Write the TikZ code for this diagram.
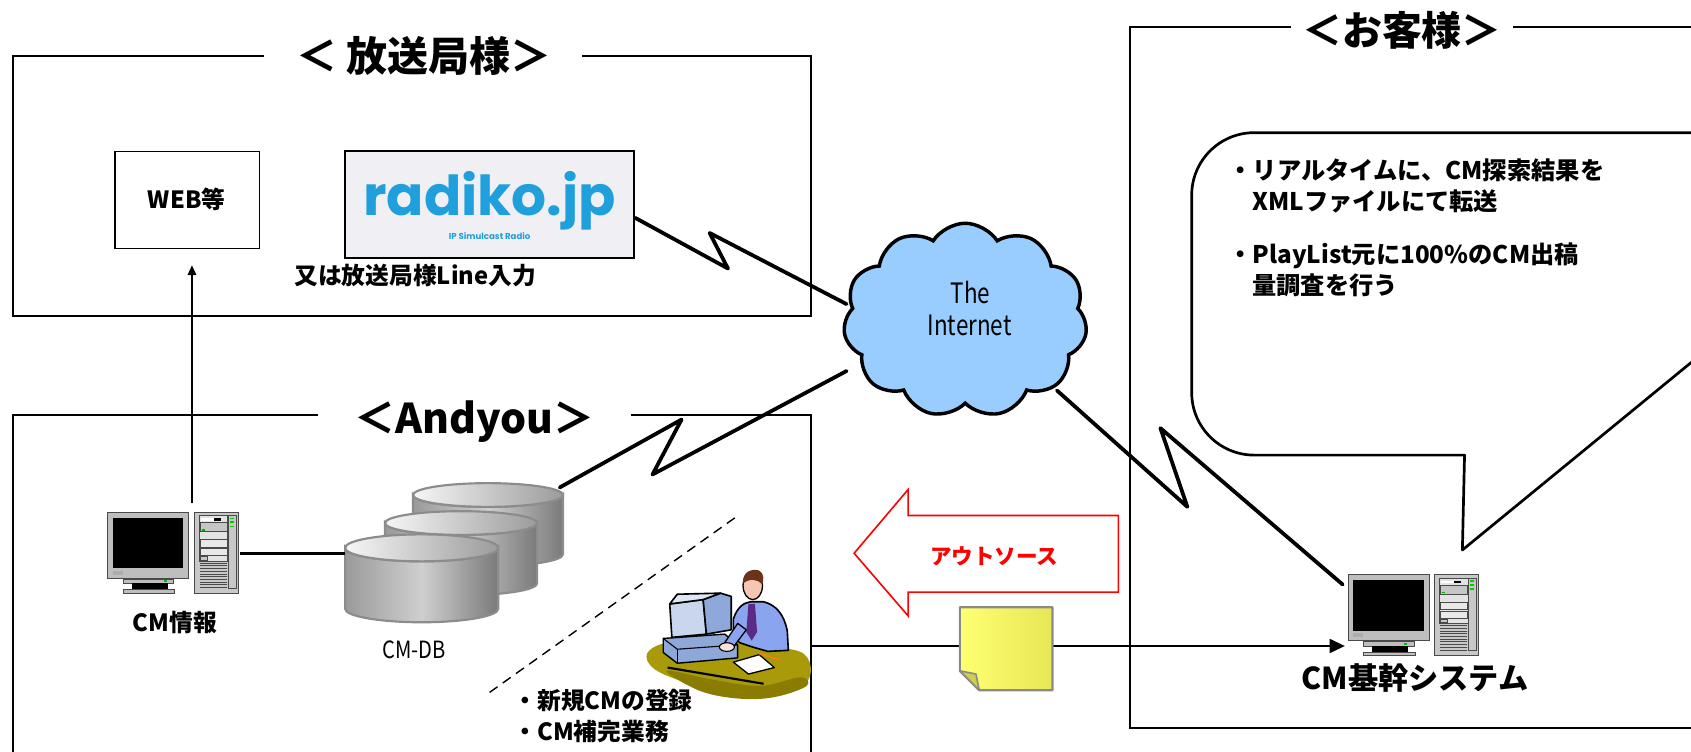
\documentclass[tikz,border=0pt]{standalone}
\usepackage{fontspec}
\setmainfont{Noto Sans CJK JP}
\newfontfamily\radikofont{Poppins}
\usetikzlibrary{shapes.symbols,arrows.meta}
\definecolor{radbg}{HTML}{F0F0F4}
\definecolor{radblue}{HTML}{1F9FDC}
\definecolor{cloudblue}{HTML}{99CCFF}
\definecolor{mongray}{HTML}{BEBEBE}
\definecolor{mondark}{HTML}{4A4A4A}
\definecolor{towgray}{HTML}{C8C8C8}
\definecolor{cylL}{HTML}{9A9A9A}
\definecolor{cylM}{HTML}{CFCFCF}
\definecolor{cylR}{HTML}{7A7A7A}
\definecolor{cylE}{HTML}{8C8C8C}
\definecolor{topL}{HTML}{F6F6F6}
\definecolor{topR}{HTML}{9C9C9C}
\definecolor{desk}{HTML}{A89A08}
\definecolor{deskdark}{HTML}{8A7C00}
\definecolor{shirt}{HTML}{8AA4F0}
\definecolor{tie}{HTML}{5B2A86}
\definecolor{skin}{HTML}{F5C6B4}
\definecolor{hair}{HTML}{6B3418}
\definecolor{monblue}{HTML}{8FA8DA}
\definecolor{monlight}{HTML}{C9D6EE}
\definecolor{noteA}{HTML}{FFFF72}
\definecolor{noteB}{HTML}{E6E656}
\definecolor{notefold}{HTML}{CFCF4A}
\definecolor{notegray}{HTML}{8A8A8A}
\newcommand\dbcyl[5]{%
  \path[left color=cylL, right color=cylR, middle color=cylM, draw=cylE, line width=2pt]
    (#1-#3,#2) -- (#1-#3,#2+#5) arc[start angle=180,end angle=0,x radius=#3,y radius=#4]
    -- (#1+#3,#2) arc[start angle=0,end angle=180,x radius=#3,y radius=#4] -- cycle;
  \path[left color=topL, right color=topR, draw=cylE, line width=2pt]
    (#1,#2) ellipse[x radius=#3,y radius=#4];
}
\tikzset{
  frame/.style={line width=2pt},
  jp/.style={font=\bfseries\fontsize{22}{26}\selectfont, inner sep=0pt},
  ttl/.style={font=\bfseries\fontsize{38}{40}\selectfont, inner sep=0pt, anchor=base},
  bolt/.style={line width=3.5pt, line join=round, line cap=round},
  pc/.pic={
    % monitor
    \draw[fill=mongray, draw=mondark, line width=0.8pt] (0,0) rectangle (75,61);
    \fill[black] (5,5) rectangle (70,52);
    \fill[gray!65] (5,54) rectangle (14,58);
    \draw[fill=mongray, draw=mondark, line width=0.6pt] (14,62) rectangle (61,66);
    \fill[green!75!black] (52,63) rectangle (55,65);
    \fill[black] (22,66) rectangle (56,71.5);
    \draw[fill=mongray, draw=mondark, line width=0.6pt] (14,71.5) rectangle (62,75);
    % tower
    \draw[fill=towgray, draw=mondark, line width=0.8pt] (80,0) rectangle (121,75);
    \draw[fill=gray!22, draw=mondark, line width=0.5pt] (85,3) rectangle (111,45);
    \fill[white] (86,5.5) rectangle (98,8);
    \fill[black] (98,5.5) rectangle (105,8);
    \draw[fill=gray!45, draw=mondark, line width=0.4pt] (85.5,9.5) rectangle (110.5,18);
    \fill[green!70!black] (87,15.5) rectangle (90,17);
    \draw[fill=gray!18, draw=mondark, line width=0.4pt] (85.5,25) rectangle (110.5,32);
    \draw[fill=gray!18, draw=mondark, line width=0.4pt] (85.5,33.5) rectangle (110.5,40);
    \draw[fill=gray!45, draw=mondark, line width=0.4pt] (85.5,41) rectangle (92,44);
    \foreach \v in {47,49.5,...,70} \draw[mondark, line width=0.4pt] (85.5,\v) -- (110.5,\v);
    \draw[draw=mondark, line width=0.4pt] (111.5,3) rectangle (119,70);
    \fill[green!80!black] (113,5) rectangle (117,6.5);
    \fill[green!80!black] (113,8.5) rectangle (117,10);
    \fill[green!80!black] (113,12.5) rectangle (117,14);
    \coordinate (-e) at (123,38);
    \coordinate (-up) at (78,-9);
    \coordinate (-w) at (-3,66);
    \coordinate (-nw) at (-5,9);
  }
}
\begin{document}
\begin{tikzpicture}[x=1pt,y=-1pt]
\useasboundingbox (0,0) rectangle (1568,696.4);
\clip (0,0) rectangle (1568,696.4);
\fill[white] (0,0) rectangle (1568,696.4);

% ---------- frames ----------
\draw[frame] (245,52) -- (12,52) -- (12,293) -- (752,293) -- (752,52) -- (540,52);
\node[ttl] (t1) at (393,66) {＜ 放送局様＞};
\draw[frame] (295,385) -- (12,385) -- (12,710);
\draw[frame] (585,385) -- (752,385) -- (752,710);
\node[ttl] (t2) at (440,402) {＜Andyou＞};
\draw[frame] (1197,25) -- (1048,25) -- (1048,675) -- (1600,675);
\draw[frame] (1403,25) -- (1600,25);
\node[ttl, font=\bfseries\fontsize{37}{40}\selectfont] (t3) at (1300,42) {＜お客様＞};

% ---------- broadcaster ----------
\node[draw, line width=1.2pt, minimum width=134pt, minimum height=90pt, anchor=north west] (web) at (106,140) {};
\node[jp, anchor=base] (webtxt) at (173,193) {WEB等};
\node[draw, line width=2pt, fill=radbg, minimum width=268pt, minimum height=99pt, anchor=north west] (radiko) at (319,139) {};
\node[anchor=base, inner sep=0pt, text=radblue, font=\radikofont\bfseries\fontsize{51}{53}\selectfont] (radtxt) at (454,200) {radiko.jp};
\node[anchor=base, inner sep=0pt, text=radblue, font=\radikofont\bfseries\fontsize{8}{9}\selectfont] (radsub) at (454,222) {IP Simulcast Radio};
\node[jp, anchor=base] (line) at (385,264) {又は放送局様Line入力};

% ---------- cloud ----------
\node[cloud, cloud puffs=11, cloud puff arc=115, cloud ignores aspect, draw, line width=3.2pt,
      fill=cloudblue, minimum width=226pt, minimum height=180pt] (cloud) at (895,297) {};
\node[anchor=base, inner sep=0pt, xscale=0.8, font=\fontsize{26}{30}\selectfont] (the) at (900,281) {The};
\node[anchor=base, inner sep=0pt, xscale=0.8, font=\fontsize{26}{30}\selectfont] (inet) at (899,311) {Internet};

% ---------- speech bubble ----------
\draw[line width=2.5pt, line join=round] (1600,123) -- (1163,123)
  arc[start angle=270, end angle=180, radius=58] -- (1105,364)
  arc[start angle=180, end angle=90, radius=58] -- (1358,422) -- (1356,510) -- (1600,310);
\node[jp, anchor=base west, font=\bfseries\fontsize{22.5}{26}\selectfont] (b1) at (1139,166) {・リアルタイムに、CM探索結果を};
\node[jp, anchor=base west, font=\bfseries\fontsize{22.5}{26}\selectfont] (b2) at (1161,195) {XMLファイルにて転送};
\node[jp, anchor=base west, font=\bfseries\fontsize{22.5}{26}\selectfont] (b3) at (1139,244) {・PlayList元に100\%のCM出稿};
\node[jp, anchor=base west, font=\bfseries\fontsize{22.5}{26}\selectfont] (b4) at (1161,273) {量調査を行う};

% ---------- computers ----------
\pic (pcA) at (100,475) {pc};
\node[jp, anchor=base] (cminfo) at (162,586) {CM情報};
\pic (pcB) at (1250,533) {pc};
\node[jp, anchor=base, font=\bfseries\fontsize{28}{30}\selectfont] (kikan) at (1312,639) {CM基幹システム};

% ---------- database ----------
\dbcyl{452.5}{459}{69.5}{11}{55}
\dbcyl{427.5}{485}{70.5}{11}{56}
\dbcyl{391}{508}{71}{12.5}{56.5}
\coordinate (dbA) at (320,513);
\coordinate (dbB) at (519,452);
\node[anchor=base, inner sep=0pt, xscale=0.85, font=\fontsize{22}{26}\selectfont] (cmdb) at (384,611) {CM-DB};

% ---------- connectors ----------
\coordinate (webtip) at (178,246);
\draw[line width=1.2pt, -{Triangle[length=9pt,width=8pt]}] (pcA-up) -- (webtip);
\draw[line width=3pt] (pcA-e) -- (dbA);
\coordinate (r0) at (589,202);
\coordinate (rz1) at (675,249);
\coordinate (rz2) at (658,216);
\coordinate (r3) at (785,282);
\draw[bolt] (r0) -- (rz1) -- (rz2) -- (r3);
\coordinate (dz1) at (632,389);
\coordinate (dz2) at (605,440);
\coordinate (d3) at (785,344);
\draw[bolt] (dbB) -- (dz1) -- (dz2) -- (d3);
\coordinate (c0) at (980,362);
\coordinate (cz1) at (1101,470);
\coordinate (cz2) at (1076,397);
\draw[bolt] (c0) -- (cz1) -- (cz2) -- (pcB-nw);

% ---------- dashed separator ----------
\coordinate (ds1) at (454,642);
\coordinate (ds2) at (683,479);
\draw[line width=1.3pt, dash pattern=on 9pt off 6pt] (ds1) -- (ds2);

% ---------- person at desk ----------
\fill[desk] plot[smooth cycle, tension=0.6] coordinates {(600,606) (614,597) (645,594) (682,596) (720,600) (745,606) (752,622) (744,636) (720,642) (690,645) (655,638) (622,628) (604,618)};
\fill[deskdark] plot[smooth cycle, tension=0.6] coordinates {(618,622) (660,630) (705,636) (742,628) (748,636) (720,646) (688,648) (650,641)};
\draw[line width=2pt] (619,619) -- (708,634);
% computer base
\draw[fill=monblue, line width=1.3pt, line join=round] (615,592) -- (672,588) -- (684,598) -- (684,610) -- (628,615) -- (615,605) -- cycle;
\draw[line width=1pt] (615,592) -- (628,602) -- (684,598);
\draw[line width=1pt] (628,602) -- (628,615);
% monitor
\draw[fill=monlight, line width=1.5pt, line join=round] (621,560) -- (652,556) -- (655,588) -- (623,591) -- cycle;
\draw[fill=monblue, line width=1.5pt, line join=round] (652,556) -- (668,550) -- (678,553) -- (678,584) -- (655,588) -- cycle;
\draw[fill=monlight!60!white, line width=1.5pt, line join=round] (621,560) -- (628,551) -- (668,550) -- (652,556) -- cycle;
% man
\draw[fill=shirt, line width=1.5pt, line join=round] (680,574) .. controls (684,562) and (690,559) .. (696,558) -- (708,558) .. controls (720,561) and (727,570) .. (730,585) -- (731,603) -- (712,604) -- (698,600) -- (686,596) -- (680,590) -- cycle;
\fill[tie] (694,560) -- (700,560) -- (702,586) -- (697,594) -- (692,586) -- cycle;
\draw[fill=shirt, line width=1.2pt, line join=round] (684,578) -- (672,596) -- (680,600) -- (692,584) -- cycle;
\draw[fill=skin!50!white, line width=1pt] (674,600) ellipse[x radius=7, y radius=4];
\draw[fill=skin, line width=1.2pt] (698,543) ellipse[x radius=9, y radius=13];
\fill[hair] (689,541) .. controls (688,530) and (697,527) .. (704,529) .. controls (709,532) and (708,538) .. (707,542) .. controls (703,537) and (695,536) .. (689,541) -- cycle;
% paper and pencil
\draw[fill=white, line width=1.2pt, line join=round] (680,614) -- (704,607) -- (718,619) -- (694,625) -- cycle;
\draw[line width=1.8pt, orange!80!brown] (704,606) -- (724,612);
\coordinate (person) at (752,599);
\node[jp, anchor=base west] (task1) at (476,658) {・新規CMの登録};
\node[jp, anchor=base west] (task2) at (476,687) {・CM補完業務};

% ---------- arrow to customer, note ----------
\draw[line width=1.5pt, -{Triangle[length=14pt,width=13pt]}] (person) -- (pcB-w);
\path[left color=noteA, right color=noteB, draw=notegray, line width=2pt, line join=round]
  (890,563) -- (976,563) -- (976,640) -- (908,640) -- (890,622) -- cycle;
\path[fill=notefold, draw=notegray, line width=1.5pt, line join=round] (890,622) -- (905,625) -- (908,640) -- cycle;

% ---------- outsourcing arrow ----------
\draw[red, line width=1.5pt, fill=white, line join=miter] (792,513) -- (842,454) -- (842,478) -- (1037,478) -- (1037,549) -- (842,549) -- (842,571) -- cycle;
\node[jp, anchor=base, text=red, font=\bfseries\fontsize{20}{24}\selectfont] (outs) at (922,523) {アウトソース};
\end{tikzpicture}
\end{document}
